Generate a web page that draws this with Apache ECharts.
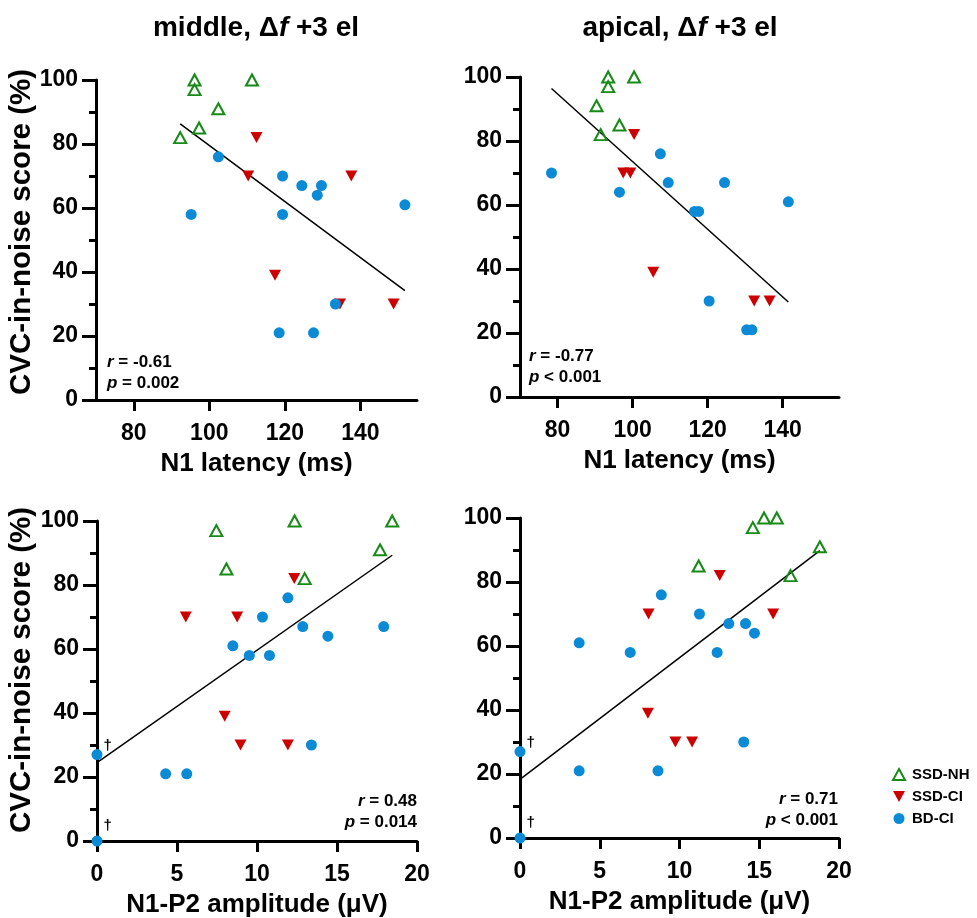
<!DOCTYPE html>
<html>
<head>
<meta charset="utf-8">
<script src="https://cdn.jsdelivr.net/npm/echarts@6/dist/echarts.min.js"></script>
<style>
html,body{margin:0;padding:0;background:#fff;}
#chart{width:977px;height:918px;}
</style>
</head>
<body>
<div id="chart"></div>
<script>
// ---------- data ----------
// Top-left: middle, N1 latency (ms) vs CVC-in-noise score (%)
const nhLatMid = [[92.3,82],[96.1,100],[96.1,97],[97.3,85],[102.4,91],[111.3,100]];
const ciLatMid = [[112.5,82],[110.3,70],[137.6,70],[117.4,39],[134.6,30],[148.8,30]];
const bdLatMid = [[102.4,76],[95.2,58],[119.4,70],[119.4,58],[124.5,67],[128.6,64],[129.7,67],[151.8,61],[118.5,21],[127.6,21],[133.4,30]];
const fitLatMid = [[92.3,86.3],[151.8,34.2]];

// Top-right: apical, N1 latency
const nhLatApi = [[91.5,82],[90.4,91],[93.5,100],[93.5,97],[96.5,85],[100.4,100]];
const ciLatApi = [[100.4,82],[97.5,70],[99.4,70],[105.5,39],[132.4,30],[136.5,30]];
const bdLatApi = [[78.4,70],[96.5,64],[107.4,76],[109.5,67],[116.5,58],[117.6,58],[124.5,67],[141.5,61],[120.4,30],[130.4,21],[131.8,21]];
const fitLatApi = [[78.4,96.4],[141.5,29.7]];

// Bottom-left: middle, N1-P2 amplitude (µV)
const nhAmpMid = [[7.46,97],[8.09,85],[12.35,100],[12.98,82],[17.69,91],[18.45,100]];
const ciAmpMid = [[5.55,70],[8.76,70],[12.33,82],[7.98,39],[8.97,30],[11.93,30]];
const bdAmpMid = [[0,27],[0,0],[4.29,21],[5.61,21],[8.49,61],[9.52,58],[10.78,58],[10.34,70],[11.93,76],[12.86,67],[14.43,64],[13.4,30],[17.92,67]];
const fitAmpMid = [[0,24.5],[18.45,89.3]];

// Bottom-right: apical, N1-P2 amplitude
const nhAmpApi = [[11.2,85],[14.6,97],[15.3,100],[16.1,100],[16.96,82],[18.8,91]];
const ciAmpApi = [[8.06,70],[12.52,82],[15.87,70],[8.02,39],[9.74,30],[10.79,30]];
const bdAmpApi = [[0,27],[0,0],[3.71,61],[3.71,21],[6.91,58],[8.65,21],[8.86,76],[11.25,70],[12.36,58],[13.09,67],[14.14,67],[14.7,64],[14.03,30]];
const fitAmpApi = [[0,18.3],[18.8,89.8]];

const latTicks = [80,100,120,140];
const groupNames = ['SSD-NH','SSD-CI','BD-CI'];
const panelTitles = ['middle, Δ{i|f} +3 el','apical, Δ{i|f} +3 el'];
const statsR = ['-0.61','-0.77','0.48','0.71'];
const statsP = ['= 0.002','< 0.001','= 0.014','< 0.001'];
const yTitle = 'CVC-in-noise score (%)';
const xTitleLat = 'N1 latency (ms)';
const xTitleAmp = 'N1-P2 amplitude (μV)';

// ---------- styling ----------
const FONT = 'Liberation Sans, Arial, Helvetica, sans-serif';
const GREEN = '#178a17', RED = '#cc0000', BLUE = '#0b8ad6';
const DOWN_TRI = 'path://M0,0L12,0L6,11Z';

const grids = [
  {left:96, top:80, width:321, height:320},
  {left:520, top:77, width:319, height:320},
  {left:97, top:521, width:320, height:320},
  {left:520, top:518, width:319, height:320}
].map(g => Object.assign({containLabel:false, outerBoundsMode:'none'}, g));

const axisLine = {show:true, onZero:false, lineStyle:{color:'#000', width:3}};
const labelStyle = {color:'#000', fontSize:23, fontWeight:'bold', fontFamily:FONT};
const nameStyle = {color:'#000', fontSize:26, fontWeight:'bold', fontFamily:FONT};

function xLat(i){
  return {type:'value', gridIndex:i, min:70, max:155, axisLine,
    axisTick:{show:true, length:11, customValues:latTicks, lineStyle:{color:'#000', width:3}},
    axisLabel:Object.assign({margin:22, customValues:latTicks}, labelStyle),
    splitLine:{show:false},
    name:xTitleLat, nameLocation:'middle', nameGap:51, nameTextStyle:nameStyle};
}
function xAmp(i){
  return {type:'value', gridIndex:i, min:0, max:20, interval:5, axisLine,
    axisTick:{show:true, length:11, lineStyle:{color:'#000', width:3}},
    axisLabel:Object.assign({margin:22}, labelStyle),
    splitLine:{show:false},
    name:xTitleAmp, nameLocation:'middle', nameGap:51, nameTextStyle:nameStyle};
}
function yAx(i){
  return {type:'value', gridIndex:i, min:0, max:100, interval:20, axisLine,
    axisTick:{show:true, length:14, lineStyle:{color:'#000', width:3}},
    minorTick:{show:true, splitNumber:2, length:7, lineStyle:{color:'#000', width:3}},
    minorSplitLine:{show:false},
    axisLabel:Object.assign({margin:18}, labelStyle),
    splitLine:{show:false}};
}

function withDaggers(arr){
  return arr.map(p => {
    if (p[0] === 0) {
      return {value:p, label:{show:true, formatter:'†', position:'right', distance:1,
        offset:[0, p[1] === 0 ? -15 : -9], fontSize:15, fontWeight:'bold', color:'#000', fontFamily:FONT}};
    }
    return p;
  });
}

function panelSeries(i, nh, ci, bd, fit){
  return [
    {type:'line', name:'fit', xAxisIndex:i, yAxisIndex:i, data:fit, symbol:'none',
     lineStyle:{color:'#000', width:1.5}, silent:true, z:1, legendHoverLink:false},
    {type:'scatter', name:groupNames[0], xAxisIndex:i, yAxisIndex:i, data:nh, clip:false,
     symbol:'triangle', symbolSize:[12,11],
     itemStyle:{color:'rgba(255,255,255,0)', borderColor:GREEN, borderWidth:2, opacity:1}, z:3},
    {type:'scatter', name:groupNames[1], xAxisIndex:i, yAxisIndex:i, data:ci, clip:false,
     symbol:DOWN_TRI, symbolSize:[12,11],
     itemStyle:{color:RED, opacity:1}, z:3},
    {type:'scatter', name:groupNames[2], xAxisIndex:i, yAxisIndex:i, data:withDaggers(bd), clip:false,
     symbol:'circle', symbolSize:11,
     itemStyle:{color:BLUE, opacity:1}, z:4}
  ];
}

function statText(x, y, align, r, p){
  const base = {align:align, verticalAlign:'middle', fontSize:17, fontWeight:'bold', fontFamily:FONT, fill:'#000',
    rich:{i:{fontStyle:'italic', fontWeight:'bold', fontSize:17, fontFamily:FONT}}};
  return [
    {type:'text', x:x, y:y, style:Object.assign({text:'{i|r} = ' + r}, base)},
    {type:'text', x:x, y:y+21, style:Object.assign({text:'{i|p} ' + p}, base)}
  ];
}

function titleText(x, y, t){
  return {type:'text', x:x, y:y, style:{text:t, align:'center', verticalAlign:'middle',
    fontSize:28, fontWeight:'bold', fontFamily:FONT, fill:'#000',
    rich:{i:{fontStyle:'italic', fontWeight:'bold', fontSize:28, fontFamily:FONT}}}};
}

function yTitleText(x, y){
  return {type:'text', x:x, y:y, rotation:Math.PI/2, style:{text:yTitle, align:'center', verticalAlign:'middle',
    fontSize:29.5, fontWeight:'bold', fontFamily:FONT, fill:'#000'}};
}

const chart = echarts.init(document.getElementById('chart'), null, {renderer:'canvas'});
chart.setOption({
  animation:false,
  backgroundColor:'#fff',
  grid:grids,
  xAxis:[xLat(0), xLat(1), xAmp(2), xAmp(3)],
  yAxis:[yAx(0), yAx(1), yAx(2), yAx(3)],
  legend:{
    data:[
      {name:groupNames[0], icon:'triangle'},
      {name:groupNames[1], icon:DOWN_TRI},
      {name:groupNames[2], icon:'circle'}
    ],
    orient:'vertical', left:887, top:762,
    itemWidth:12, itemHeight:11, itemGap:7,
    textStyle:{fontSize:15, fontWeight:'bold', color:'#000', fontFamily:FONT, lineHeight:15, padding:[0,0,0,2]},
    selectedMode:false
  },
  graphic:[
    titleText(256, 28, panelTitles[0]),
    titleText(680, 28, panelTitles[1]),
    yTitleText(22, 232),
    yTitleText(22, 670),
    ...statText(107, 362, 'left', statsR[0], statsP[0]),
    ...statText(529, 356, 'left', statsR[1], statsP[1]),
    ...statText(417, 801, 'right', statsR[2], statsP[2]),
    ...statText(838, 799, 'right', statsR[3], statsP[3])
  ],
  series:[
    ...panelSeries(0, nhLatMid, ciLatMid, bdLatMid, fitLatMid),
    ...panelSeries(1, nhLatApi, ciLatApi, bdLatApi, fitLatApi),
    ...panelSeries(2, nhAmpMid, ciAmpMid, bdAmpMid, fitAmpMid),
    ...panelSeries(3, nhAmpApi, ciAmpApi, bdAmpApi, fitAmpApi)
  ]
});
</script>
</body>
</html>
